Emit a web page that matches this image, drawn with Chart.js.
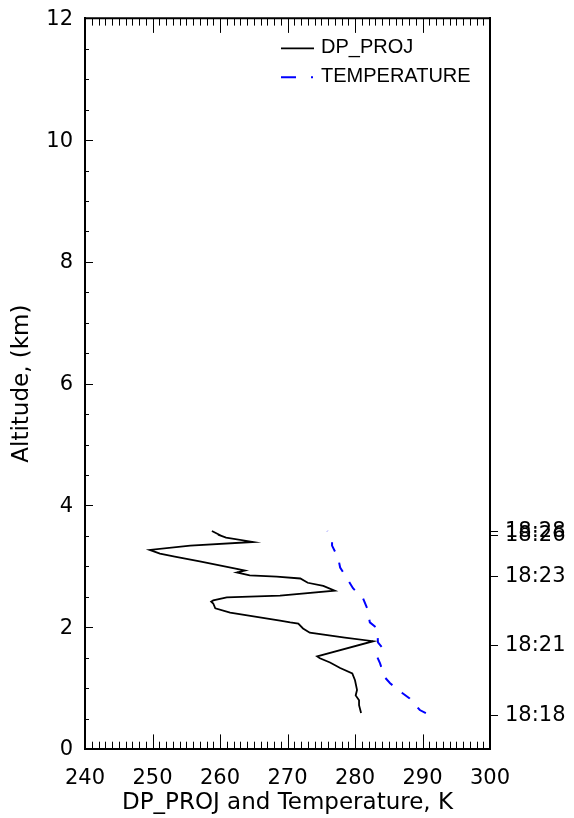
<!DOCTYPE html>
<html><head><meta charset="utf-8">
<script src="https://cdn.jsdelivr.net/npm/chart.js@4.4.0/dist/chart.umd.min.js"></script>
<style>html,body{margin:0;padding:0;background:#fff}#wrap{width:574px;height:818px;position:relative}</style>
</head><body><div id="wrap"><canvas id="c" width="574" height="818"></canvas></div>
<script>
// Dew point (projected) profile: temperature K vs altitude km
const dpTemp = [280.9, 280.6, 280.6, 280.1, 280.3, 280.0, 279.6, 277.8, 276.3, 274.8, 274.4, 282.7, 278.5, 273.3, 272.3, 271.6, 270.4, 268.9, 261.5, 259.3, 259.0, 258.7, 259.0, 261.0, 268.9, 277.0, 275.3, 273.0, 271.9, 268.4, 264.4, 262.5, 263.7, 262.5, 257.0, 253.3, 251.1, 249.6, 255.6, 264.9, 260.9, 259.7, 260.4, 258.8];
const dpAlt  = [0.59, 0.72, 0.80, 0.88, 0.97, 1.13, 1.24, 1.33, 1.42, 1.49, 1.52, 1.77, 1.83, 1.91, 1.98, 2.06, 2.08, 2.11, 2.24, 2.31, 2.39, 2.42, 2.44, 2.49, 2.52, 2.60, 2.68, 2.73, 2.80, 2.83, 2.85, 2.90, 2.93, 2.96, 3.08, 3.16, 3.21, 3.27, 3.34, 3.40, 3.47, 3.52, 3.49, 3.58];
// Temperature profile
const tTemp = [290.5, 289.6, 288.1, 287.0, 285.2, 284.4, 283.7, 283.3, 284.0, 283.4, 283.3, 282.2, 281.8, 281.2, 279.7, 279.0, 277.8, 277.5, 276.6, 276.6, 275.9];
const tAlt  = [0.59, 0.64, 0.83, 0.92, 1.08, 1.18, 1.41, 1.51, 1.67, 1.75, 1.98, 2.08, 2.31, 2.47, 2.64, 2.77, 2.98, 3.14, 3.34, 3.42, 3.58];
// Right axis: time labels at altitudes
const timeAlt = [0.557, 1.70, 2.83, 3.50, 3.57];
const timeLabels = ['18:18', '18:21', '18:23', '18:26', '18:28'];
const seriesNames = ['DP_PROJ', 'TEMPERATURE'];
const xTitle = 'DP_PROJ and Temperature, K';
const yTitle = 'Altitude, (km)';

const FONT = "'DejaVu Sans', sans-serif";
const LFONT = "'Liberation Sans', Arial, sans-serif";

const framePlugin = {
  id: 'frame',
  afterDraw(chart) {
    const {ctx, chartArea: a, scales: {x, y}} = chart;
    ctx.save();
    ctx.strokeStyle = '#000';
    ctx.lineWidth = 1;
    ctx.setLineDash([]);
    ctx.beginPath();
    for (let k = x.min; k <= x.max; k++) {
      const px = Math.round(x.getPixelForValue(k)) + 0.5;
      const len = (k % 10 === 0) ? 14.6 : 7.3;
      ctx.moveTo(px, a.bottom); ctx.lineTo(px, a.bottom - len);
      ctx.moveTo(px, a.top); ctx.lineTo(px, a.top + len);
    }
    for (let v = y.min; v <= y.max; v += 0.5) {
      const py = Math.round(y.getPixelForValue(v)) + 0.5;
      const len = (v % 2 === 0) ? 8 : 4;
      ctx.moveTo(a.left, py); ctx.lineTo(a.left + len, py);
    }
    ctx.stroke();
    ctx.lineWidth = 2;
    ctx.beginPath();
    ctx.moveTo(a.left - 1, a.top); ctx.lineTo(a.right + 1, a.top);
    ctx.stroke();

    // legend
    const lx = a.left + 196, ly = a.top + 29;
    const ds = chart.data.datasets;
    ctx.font = '20px ' + LFONT;
    ctx.textBaseline = 'middle';
    ctx.textAlign = 'left';
    ctx.fillStyle = '#000';
    ds.forEach((d, i) => {
      const yy = ly + i * 29;
      ctx.strokeStyle = d.borderColor;
      ctx.lineWidth = d.borderWidth;
      ctx.setLineDash(i === 1 ? [15, 15, 2, 15] : []);
      ctx.beginPath();
      ctx.moveTo(lx, yy + 1); ctx.lineTo(lx + 33, yy + 1);
      ctx.stroke();
      ctx.setLineDash([]);
      ctx.fillText(d.label, lx + 40, yy);
    });
    ctx.restore();
  }
};

new Chart(document.getElementById('c'), {
  type: 'line',
  data: {
    datasets: [
      {
        label: seriesNames[0],
        data: dpTemp.map((t, i) => ({x: t, y: dpAlt[i]})),
        borderColor: '#000000',
        borderWidth: 1.8,
        pointRadius: 0,
        tension: 0,
        fill: false
      },
      {
        label: seriesNames[1],
        data: tTemp.map((t, i) => ({x: t, y: tAlt[i]})),
        borderColor: '#0000ff',
        borderWidth: 2,
        borderDash: [10, 12],
        pointRadius: 0,
        tension: 0,
        fill: false
      }
    ]
  },
  options: {
    responsive: false,
    animation: false,
    devicePixelRatio: 1,
    layout: {padding: {top: 17, left: 0, right: 0, bottom: 0}},
    plugins: {legend: {display: false}, tooltip: {enabled: false}},
    scales: {
      x: {
        type: 'linear', position: 'bottom', min: 240, max: 300,
        ticks: {stepSize: 10, color: '#000', font: {family: FONT, size: 21}, padding: 17, maxRotation: 0},
        grid: {display: false, drawTicks: false},
        border: {display: true, color: '#000', width: 2},
        title: {display: true, text: xTitle, color: '#000', font: {family: FONT, size: 23, lineHeight: 1}, padding: {top: 0, bottom: 3}},
        afterFit(s) { s.height = 69; }
      },
      y: {
        type: 'linear', position: 'left', min: 0, max: 12,
        ticks: {stepSize: 2, color: '#000', font: {family: FONT, size: 21, lineHeight: 0.6}, padding: 12, labelOffset: 1},
        grid: {display: false, drawTicks: false},
        border: {display: true, color: '#000', width: 2},
        title: {display: true, text: yTitle, color: '#000', font: {family: FONT, size: 23, lineHeight: 1}, padding: {top: 11, bottom: 0}},
        afterFit(s) { s.width = 85; }
      },
      y2: {
        type: 'linear', position: 'right', min: 0, max: 12,
        afterBuildTicks(s) { s.ticks = timeAlt.map(v => ({value: v})); },
        ticks: {autoSkip: false, color: '#000', font: {family: FONT, size: 21, lineHeight: 0.6}, padding: 7,
          callback: (v, i) => timeLabels[i]},
        grid: {drawOnChartArea: false, drawTicks: true, tickLength: 8, color: '#000', lineWidth: 1},
        border: {display: true, color: '#000', width: 2},
        afterFit(s) { s.width = 84; }
      }
    }
  },
  plugins: [framePlugin]
});
</script>
</body></html>
